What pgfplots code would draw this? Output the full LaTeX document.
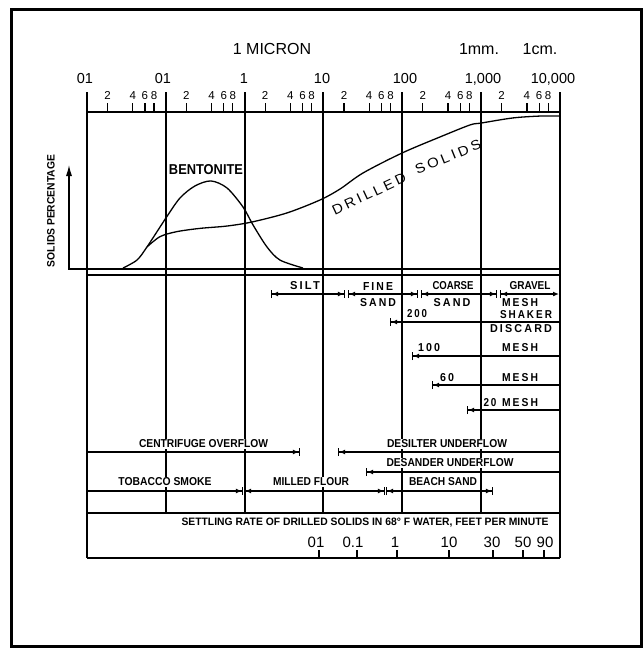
\documentclass[border=0pt]{standalone}
\usepackage{pgfplots}
\pgfplotsset{compat=1.18}
\usepackage{pgfplotstable}
\usepackage{graphicx}
\usepackage{fontspec}
\setmainfont{Liberation Sans}
\newfontfamily\spaced[LetterSpace=20]{Liberation Sans}
\usetikzlibrary{arrows.meta}

% size curves: u = log10(particle size, micron), pct = solids percentage
\pgfplotstableread{
u pct
-1.543 0
-1.366 5.1
-1.239 13.5
-0.998 32.1
-0.820 44.9
-0.630 52.6
-0.427 55.8
-0.224 51.3
-0.021 39.1
0.106 27.6
0.283 13.5
0.448 5.1
0.740 0
}\bentonite

\pgfplotstableread{
u pct
-1.239 13.5
-1.074 20.1
-0.862 23.3
-0.567 25.4
-0.224 26.9
0.093 29.5
0.537 35.3
0.956 43.6
1.209 50.6
1.501 60.9
1.996 73.7
2.478 84.0
2.859 91.7
2.998 92.9
3.404 96.2
3.747 97.4
4.000 97.4
}\drilled

\newcommand{\fit}[3]{\resizebox{#1pt}{#2pt}{\bfseries #3}}
\newcommand{\fits}[3]{\resizebox{#1pt}{#2pt}{\spaced\bfseries #3}}

\tikzset{
  t/.style={inner sep=0.8pt, anchor=center, fill=white},
  bt/.style={inner sep=0pt, anchor=base},
  la/.style={line width=1.2pt, arrows={{Bar[width=8pt,line width=1.2pt]Latex[length=6pt,width=5pt]}-}},
  ra/.style={line width=1.2pt, arrows={-{Latex[length=6pt,width=5pt]Bar[width=8pt,line width=1.2pt]}}},
  lra/.style={line width=1.2pt, arrows={{Bar[width=8pt,line width=1.2pt]Latex[length=6pt,width=5pt]}-{Latex[length=6pt,width=5pt]Bar[width=8pt,line width=1.2pt]}}},
  lrg/.style={line width=1.2pt, arrows={{Bar[width=8pt,line width=1.2pt]Latex[length=6pt,width=5pt]}-{Latex[length=6pt,width=5pt]}}},
}

\begin{document}
\begin{tikzpicture}
\begin{axis}[
    scale only axis, width=643pt, height=648pt,
    xmin=0, xmax=643, ymin=0, ymax=648, y dir=reverse,
    hide axis, clip=false]
\path (axis cs:0,0) rectangle (axis cs:643,648);

% outer frame
\draw[line width=2.5pt] (axis cs:11.5,9.5) rectangle (axis cs:641.5,646.5);

% box and rules
\draw[line width=1.4pt] (axis cs:87,92) -- (axis cs:87,558);
\draw[line width=1.4pt] (axis cs:560,92) -- (axis cs:560,558);
\draw[line width=1.4pt] (axis cs:87,112) -- (axis cs:560,112);
\draw[line width=1.4pt] (axis cs:68,269) -- (axis cs:560,269);
\draw[line width=1.4pt] (axis cs:87,275) -- (axis cs:560,275);
\draw[line width=1.4pt] (axis cs:87,513) -- (axis cs:560,513);
\draw[line width=1.4pt] (axis cs:87,558) -- (axis cs:560,558);
\pgfplotsinvokeforeach{165.83,244.66,323.49,402.32,481.15}{
  \draw[line width=2pt] (axis cs:#1,92) -- (axis cs:#1,513);
}
\pgfplotsinvokeforeach{107.5,132.7,144.9,154.0,186.3,211.5,223.7,232.8,265.2,290.4,302.6,311.7,344.0,369.2,381.4,390.5,422.8,448.0,460.2,469.3,501.7,526.9,539.1,548.2}{
  \draw[line width=1.2pt] (axis cs:#1,103) -- (axis cs:#1,112);
}
\pgfplotsinvokeforeach{87,165.83,244.66,323.49,402.32,481.15}{
  \node[bt, font=\fontsize{11.5}{13}\selectfont] at (axis cs:{#1+20.5},99.5) {2};
  \node[bt, font=\fontsize{11.5}{13}\selectfont] at (axis cs:{#1+45.7},99.5) {4};
  \node[bt, font=\fontsize{11.5}{13}\selectfont] at (axis cs:{#1+57.9},99.5) {6};
  \node[bt, font=\fontsize{11.5}{13}\selectfont] at (axis cs:{#1+67.0},99.5) {8};
}
% settling rate ticks
\pgfplotsinvokeforeach{319,357,397,449,493,523,544}{
  \draw[line width=1.2pt] (axis cs:#1,550) -- (axis cs:#1,558);
}

% solids percentage arrow
\draw[line width=1.2pt, -{Latex[length=11pt,width=6pt]}] (axis cs:69,269) -- (axis cs:69,165);

% curves
\addplot[smooth, line width=1.3pt, black] table[x expr={87+78.83*(\thisrow{u}+2)}, y expr={268-1.56*\thisrow{pct}}] {\bentonite};
\addplot[smooth, line width=1.3pt, black] table[x expr={87+78.83*(\thisrow{u}+2)}, y expr={268-1.56*\thisrow{pct}}] {\drilled};

% top scale labels
\node[bt, font=\fontsize{16}{18}\selectfont] at (axis cs:272,54) {1 MICRON};
\node[bt, font=\fontsize{16}{18}\selectfont] at (axis cs:479,54) {1mm.};
\node[bt, font=\fontsize{16}{18}\selectfont] at (axis cs:540,54) {1cm.};
\node[bt, font=\fontsize{14.5}{16}\selectfont] at (axis cs:85,83) {01};
\node[bt, font=\fontsize{14.5}{16}\selectfont] at (axis cs:163,83) {01};
\node[bt, font=\fontsize{14.5}{16}\selectfont] at (axis cs:244,83) {1};
\node[bt, font=\fontsize{14.5}{16}\selectfont] at (axis cs:322,83) {10};
\node[bt, font=\fontsize{14.5}{16}\selectfont] at (axis cs:405,83) {100};
\node[bt, font=\fontsize{14.5}{16}\selectfont] at (axis cs:483,83) {1,000};
\node[bt, font=\fontsize{14.5}{16}\selectfont] at (axis cs:553,83) {10,000};

% chart labels
\node[t, rotate=90] at (axis cs:51,211) {\fit{112}{7.5}{SOLIDS PERCENTAGE}};
\node[t] at (axis cs:206,170) {\fit{74}{10}{BENTONITE}};
\node[inner sep=0pt, rotate=25] at (axis cs:369,194) {\resizebox{80pt}{9.5pt}{\spaced DRILLED}};
\node[inner sep=0pt, rotate=22] at (axis cs:448,157) {\resizebox{70pt}{9.5pt}{\spaced SOLIDS}};

% size classes
\draw[lra] (axis cs:271,294) -- (axis cs:345,294);
\draw[lra] (axis cs:348,294) -- (axis cs:418,294);
\draw[lra] (axis cs:421,294) -- (axis cs:497,294);
\draw[lrg] (axis cs:500,294) -- (axis cs:559,294);
\node[t] at (axis cs:305,286) {\fits{30}{8}{SILT}};
\node[t] at (axis cs:378,286) {\fits{30}{8}{FINE}};
\node[t] at (axis cs:378,303) {\fits{36}{8}{SAND}};
\node[t] at (axis cs:453,286) {\fit{41}{8}{COARSE}};
\node[t] at (axis cs:452,303) {\fits{37}{8}{SAND}};
\node[t] at (axis cs:530,286) {\fit{41}{8}{GRAVEL}};

% screens
\draw[la] (axis cs:390,322) -- (axis cs:560,322);
\node[t] at (axis cs:417,314) {\fits{20}{8}{200}};
\node[t] at (axis cs:520,303) {\fits{36}{8}{MESH}};
\node[t] at (axis cs:526,315) {\fits{52}{8}{SHAKER}};
\node[t] at (axis cs:521,329) {\fits{62}{8}{DISCARD}};
\draw[la] (axis cs:412,356) -- (axis cs:560,356);
\node[t] at (axis cs:429,348) {\fits{22}{8}{100}};
\node[t] at (axis cs:520,348) {\fits{36}{8}{MESH}};
\draw[la] (axis cs:432,385) -- (axis cs:560,385);
\node[t] at (axis cs:447,378) {\fits{14}{8}{60}};
\node[t] at (axis cs:520,378) {\fits{36}{8}{MESH}};
\draw[la] (axis cs:467,410) -- (axis cs:560,410);
\node[t] at (axis cs:490,403) {\fits{13}{8}{20}};
\node[t] at (axis cs:520,403) {\fits{36}{8}{MESH}};

% equipment / materials
\draw[ra] (axis cs:87,452) -- (axis cs:300,452);
\node[t] at (axis cs:203.5,444) {\fit{129}{8}{CENTRIFUGE OVERFLOW}};
\draw[la] (axis cs:338,452) -- (axis cs:560,452);
\node[t] at (axis cs:447,444) {\fit{120}{8}{DESILTER UNDERFLOW}};
\draw[la] (axis cs:366,472) -- (axis cs:560,472);
\node[t] at (axis cs:450,463) {\fit{127}{8}{DESANDER UNDERFLOW}};
\draw[ra] (axis cs:87,491) -- (axis cs:243,491);
\node[t] at (axis cs:165,482) {\fit{93}{8}{TOBACCO SMOKE}};
\draw[lra] (axis cs:244,491) -- (axis cs:385,491);
\node[t] at (axis cs:311,482) {\fit{76}{8}{MILLED FLOUR}};
\draw[lra] (axis cs:386,491) -- (axis cs:493,491);
\node[t] at (axis cs:443,482) {\fit{68}{8}{BEACH SAND}};

% settling rate scale
\node[t] at (axis cs:365,523) {\fit{367}{7.5}{SETTLING RATE OF DRILLED SOLIDS IN 68° F WATER, FEET PER MINUTE}};
\node[bt, font=\fontsize{15}{17}\selectfont] at (axis cs:316,547) {01};
\node[bt, font=\fontsize{15}{17}\selectfont] at (axis cs:353,547) {0.1};
\node[bt, font=\fontsize{15}{17}\selectfont] at (axis cs:395,547) {1};
\node[bt, font=\fontsize{15}{17}\selectfont] at (axis cs:449,547) {10};
\node[bt, font=\fontsize{15}{17}\selectfont] at (axis cs:492,547) {30};
\node[bt, font=\fontsize{15}{17}\selectfont] at (axis cs:523,547) {50};
\node[bt, font=\fontsize{15}{17}\selectfont] at (axis cs:545,547) {90};
\end{axis}
\end{tikzpicture}
\end{document}
